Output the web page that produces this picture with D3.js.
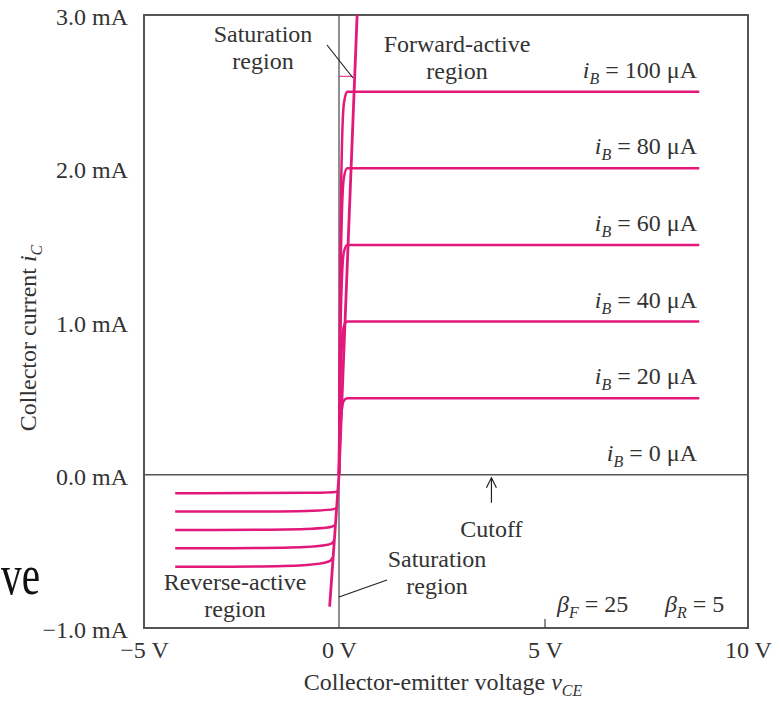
<!DOCTYPE html>
<html>
<head>
<meta charset="utf-8">
<script src="https://cdn.jsdelivr.net/npm/d3@7"></script>
<style>
  body { margin: 0; background: #fff; }
  text { font-family: "Liberation Serif", "Times New Roman", serif; fill: #333; }
</style>
</head>
<body>
<div id="chart"></div>
<script>
// base currents (uA) and the collector current they settle to
var baseCurrents = [20, 40, 60, 80, 100];
var forwardLevels = [0.5, 1.0, 1.5, 2.0, 2.5];      // mA, beta_F = 25
var reverseLevels = [-0.12, -0.24, -0.36, -0.48, -0.6]; // mA, (beta_R+1)*iB
var forwardEnd = 8.8;   // V, where the flat lines stop
var reverseEnd = -4.2;

// knee of each forward curve (v, fraction of level)
var kneeV = [0, 0.03, 0.07, 0.12, 0.2];
var kneeF = [0, 0.55, 0.85, 0.97, 1];

// steep saturation line through the origin
var satLine = [[-0.24, -0.86], [0, 0], [0.44, 3.0]];

var yTicks = [-1, 0, 1, 2, 3];
var xTicks = [-5, 0, 5, 10];
var ibLabels = ["100", "80", "60", "40", "20", "0"];
var ibLabelY = [2.5, 2.0, 1.5, 1.0, 0.5, 0.0];

var w = 781, h = 704;
var pink = "#e2197a";
var fs = "24px", fsSub = "16px";

var svg = d3.select("#chart").append("svg")
    .attr("width", w)
    .attr("height", h);

var x = d3.scaleLinear().domain([-5, 0, 5, 10]).range([144, 339, 545, 748]);
var y = d3.scaleLinear().domain([-1, 3]).range([628, 15]);

// background letters from the slide behind the figure
svg.append("text")
    .attr("x", 1).attr("y", 594)
    .attr("textLength", 39).attr("lengthAdjust", "spacingAndGlyphs")
    .style("font-size", "56px")
    .style("fill", "#111")
    .text("ve");

// axes (labels only)
var yAxis = svg.append("g")
    .attr("transform", "translate(" + x(-5) + ",0)")
    .call(d3.axisLeft(y).tickValues(yTicks).tickSize(0).tickPadding(16)
        .tickFormat(function (d) { return (d < 0 ? "\u2212" + Math.abs(d).toFixed(1) : d.toFixed(1)) + " mA"; }));
yAxis.select(".domain").remove();
yAxis.selectAll("text").style("font-size", fs).attr("fill", "#333").attr("dy", "0.4em")
    .style("font-family", "Liberation Serif, serif");

var xAxis = svg.append("g")
    .attr("transform", "translate(0," + y(-1) + ")")
    .call(d3.axisBottom(x).tickValues(xTicks).tickSize(0).tickPadding(13)
        .tickFormat(function (d) { return (d < 0 ? "\u2212" + Math.abs(d) : d) + " V"; }));
xAxis.select(".domain").remove();
xAxis.selectAll("text").style("font-size", fs).attr("fill", "#333")
    .style("font-family", "Liberation Serif, serif");

// frame, zero lines
svg.append("rect")
    .attr("x", x(-5)).attr("y", y(3))
    .attr("width", x(10) - x(-5)).attr("height", y(-1) - y(3))
    .attr("fill", "none").attr("stroke", "#555").attr("stroke-width", 2);
svg.append("line")
    .attr("x1", x(-5)).attr("x2", x(10)).attr("y1", y(0)).attr("y2", y(0))
    .attr("stroke", "#555").attr("stroke-width", 1.6);
svg.append("line")
    .attr("x1", x(0)).attr("x2", x(0)).attr("y1", y(3)).attr("y2", y(-1))
    .attr("stroke", "#444").attr("stroke-width", 1.2);
svg.append("line")
    .attr("x1", x(5)).attr("x2", x(5)).attr("y1", y(-1)).attr("y2", y(-1) - 9)
    .attr("stroke", "#444").attr("stroke-width", 1.2);

var line = d3.line()
    .x(function (d) { return x(d[0]); })
    .y(function (d) { return y(d[1]); })
    .curve(d3.curveMonotoneX);

// forward curves
forwardLevels.forEach(function (lev) {
    var pts = kneeV.map(function (v, i) { return [v, lev * kneeF[i]]; });
    pts.push([forwardEnd, lev]);
    svg.append("path")
        .attr("d", line(pts))
        .attr("fill", "none").attr("stroke", pink).attr("stroke-width", 2.5);
});

// reverse curves
var satX = d3.scaleLinear().domain([satLine[0][1], 0]).range([satLine[0][0], 0]);
reverseLevels.forEach(function (lev) {
    var vx = satX(lev);
    var pts = [[reverseEnd, lev], [vx - 0.1, lev], [vx, lev * 0.9]];
    svg.append("path")
        .attr("d", d3.line().x(function (d) { return x(d[0]); }).y(function (d) { return y(d[1]); })
            .curve(d3.curveBasis)(pts))
        .attr("fill", "none").attr("stroke", pink).attr("stroke-width", 2.5);
});

svg.append("path")
    .attr("d", d3.line().x(function (d) { return x(d[0]); }).y(function (d) { return y(d[1]); })(satLine))
    .attr("fill", "none").attr("stroke", pink).attr("stroke-width", 2.8);

// small pink marker under the upper saturation pointer
svg.append("line")
    .attr("x1", x(0)).attr("x2", x(0.33)).attr("y1", y(2.6)).attr("y2", y(2.6))
    .attr("stroke", pink).attr("stroke-width", 1);

// iB labels
function subLabel(xPos, yPos, main, sub, rest, anchor) {
    var t = svg.append("text")
        .attr("x", xPos).attr("y", yPos)
        .attr("text-anchor", anchor || "start")
        .style("font-size", fs);
    t.append("tspan").style("font-style", "italic").text(main);
    t.append("tspan").attr("dy", 6).style("font-size", fsSub).style("font-style", "italic").text(sub);
    t.append("tspan").attr("dy", -6).text(rest);
    return t;
}

ibLabels.forEach(function (lab, i) {
    subLabel(697, y(ibLabelY[i]) - 14, "i", "B", " = " + lab + " \u03bcA", "end");
});

// region notes
function twoLines(cx, y1, l1, l2) {
    svg.append("text").attr("x", cx).attr("y", y1).attr("text-anchor", "middle")
        .style("font-size", fs).text(l1);
    svg.append("text").attr("x", cx).attr("y", y1 + 27).attr("text-anchor", "middle")
        .style("font-size", fs).text(l2);
}
twoLines(263, 42, "Saturation", "region");
twoLines(457, 52, "Forward-active", "region");
twoLines(437, 567, "Saturation", "region");
twoLines(235, 590, "Reverse-active", "region");

svg.append("line").attr("x1", 327).attr("y1", 45).attr("x2", 353).attr("y2", 78)
    .attr("stroke", "#222").attr("stroke-width", 1.2);
svg.append("line").attr("x1", 387).attr("y1", 580).attr("x2", 339).attr("y2", 597)
    .attr("stroke", "#222").attr("stroke-width", 1.2);

// cutoff arrow
var ax = x(3.7);
svg.append("line").attr("x1", ax).attr("x2", ax).attr("y1", y(0) + 3).attr("y2", y(0) + 28)
    .attr("stroke", "#222").attr("stroke-width", 1.2);
svg.append("path")
    .attr("d", "M" + (ax - 5) + "," + (y(0) + 13) + "L" + ax + "," + (y(0) + 3) + "L" + (ax + 5) + "," + (y(0) + 13))
    .attr("fill", "none").attr("stroke", "#222").attr("stroke-width", 1.2);
svg.append("text").attr("x", ax).attr("y", 537).attr("text-anchor", "middle")
    .style("font-size", fs).text("Cutoff");

// betas
function beta(xPos, sub, rest) {
    var b = svg.append("text").attr("x", xPos).attr("y", 612).style("font-size", fs);
    b.append("tspan").style("font-style", "italic").text("\u03b2");
    b.append("tspan").attr("dy", 6).style("font-size", fsSub).style("font-style", "italic").text(sub);
    b.append("tspan").attr("dy", -6).text(rest);
}
beta(557, "F", " = 25");
beta(665, "R", " = 5");

// axis titles
var xt = svg.append("text").attr("x", 443).attr("y", 690).attr("text-anchor", "middle")
    .style("font-size", fs);
xt.append("tspan").text("Collector-emitter voltage ");
xt.append("tspan").style("font-style", "italic").text("v");
xt.append("tspan").attr("dy", 6).style("font-size", fsSub).style("font-style", "italic").text("CE");

var yt = svg.append("text")
    .attr("transform", "translate(36,338) rotate(-90)")
    .attr("text-anchor", "middle")
    .style("font-size", fs);
yt.append("tspan").text("Collector current ");
yt.append("tspan").style("font-style", "italic").text("i");
yt.append("tspan").attr("dy", 6).style("font-size", fsSub).style("font-style", "italic").text("C");
</script>
</body>
</html>
